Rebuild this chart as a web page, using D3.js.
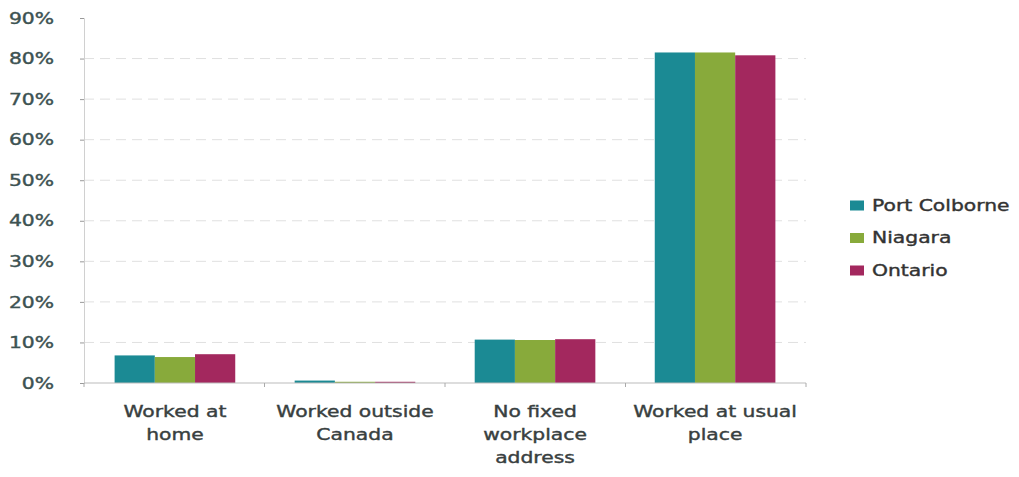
<!DOCTYPE html>
<html><head><meta charset="utf-8">
<script src="https://cdn.jsdelivr.net/npm/d3@7"></script>
<style>body{margin:0;background:#fff;} text{font-family:"DejaVu Sans",sans-serif;}</style>
</head><body><svg id="c" width="1019" height="477"></svg>
<script>
const categories = [["Worked at","home"],["Worked outside","Canada"],["No fixed","workplace","address"],["Worked at usual","place"]];
const seriesNames = ["Port Colborne","Niagara","Ontario"];
const portColborne = [6.8, 0.6, 10.7, 81.5];
const niagara = [6.4, 0.3, 10.6, 81.5];
const ontario = [7.1, 0.3, 10.8, 80.8];
const colors = ["#1b8a94","#88aa3b","#a3285e"];
const yTicks = [0,10,20,30,40,50,60,70,80,90];

(function(){
const series = [portColborne, niagara, ontario];
const svg = d3.select("#c");
const pLeft = 84, pRight = 806, pTop = 18, pBottom = 383;
const SX = 1.27, FS = 16;
const x = d3.scaleBand().domain(d3.range(categories.length)).range([pLeft, pRight]).paddingInner(0.33).paddingOuter(0.17);
const xs = d3.scaleBand().domain(d3.range(series.length)).range([0, x.bandwidth()]);
const y = d3.scaleLinear().domain([0,90]).range([pBottom, pTop]);

// grid
svg.append("g").selectAll("line").data(yTicks.filter(d=>d>0 && d<90)).join("line")
  .attr("x1", pLeft).attr("x2", pRight).attr("y1", d=>y(d)).attr("y2", d=>y(d))
  .attr("stroke","#e0e0e0").attr("stroke-width",1).attr("stroke-dasharray","10,6");

// y axis
const ya = svg.append("g").attr("transform",`translate(${pLeft},0)`)
  .call(d3.axisLeft(y).tickValues(yTicks).tickFormat(d=>d+"%").tickSize(4).tickPadding(26));
ya.select(".domain").attr("stroke","#d0d0d0");
ya.selectAll(".tick line").attr("stroke","#999");
ya.selectAll(".tick text").attr("font-size",FS).attr("fill","#3d5252")
  .attr("stroke","#3d5252").attr("stroke-width",0.4)
  .attr("font-family","DejaVu Sans, sans-serif")
  .attr("x", -30/SX).attr("transform",`scale(${SX},1)`);

// bars
const g = svg.append("g");
series.forEach((s,si)=>{
  g.selectAll(null).data(s).join("rect")
    .attr("x",(d,i)=>x(i)+xs(si)).attr("width",xs.bandwidth())
    .attr("y",d=>y(d)).attr("height",d=>pBottom-y(d))
    .attr("fill",colors[si]);
});

// x axis line
svg.append("line").attr("x1",pLeft).attr("x2",pRight).attr("y1",pBottom).attr("y2",pBottom).attr("stroke","#bbb");
svg.append("g").selectAll("line").data(d3.range(categories.length+1)).join("line")
  .attr("x1",i=>pLeft + i*(pRight-pLeft)/categories.length).attr("x2",i=>pLeft + i*(pRight-pLeft)/categories.length)
  .attr("y1",pBottom).attr("y2",pBottom+4).attr("stroke","#aaa");

// x labels
categories.forEach((lines,i)=>{
  const t = svg.append("text")
    .attr("transform",`translate(${x(i)+x.bandwidth()/2},417) scale(${SX},1)`)
    .attr("text-anchor","middle").attr("font-size",FS).attr("fill","#384040")
    .attr("stroke","#384040").attr("stroke-width",0.4);
  lines.forEach((l,k)=>t.append("tspan").attr("x",0).attr("dy",k?23:0).text(l));
});

// legend
const lg = svg.append("g").attr("transform","translate(850,210.5)");
seriesNames.forEach((n,i)=>{
  lg.append("rect").attr("x",0).attr("y",i*32.5-10).attr("width",14).attr("height",10).attr("fill",colors[i]);
  lg.append("text").attr("transform",`translate(22,${i*32.5}) scale(${SX},1)`)
    .attr("font-size",FS).attr("fill","#333").attr("stroke","#333").attr("stroke-width",0.4).text(n);
});
})();
</script></body></html>
